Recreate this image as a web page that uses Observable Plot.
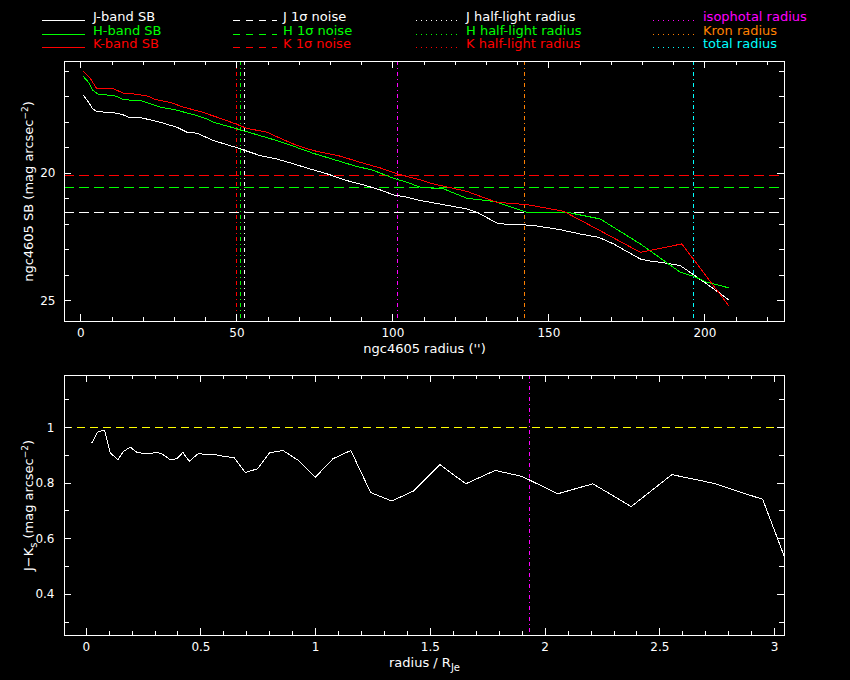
<!DOCTYPE html>
<html><head><meta charset="utf-8">
<script src="https://cdn.jsdelivr.net/npm/d3@7"></script>
<script src="https://cdn.jsdelivr.net/npm/@observablehq/plot@0.6"></script>
<style>
html,body{margin:0;padding:0;background:#000;}
#wrap{position:relative;width:850px;height:680px;background:#000;overflow:hidden;font-family:"DejaVu Sans",sans-serif;}
#legend,#top,#bot{position:absolute;left:0;}
#legend{top:0;} #top{top:0;} #bot{top:360px;}
svg{display:block;}
svg line, svg path, svg rect{shape-rendering:crispEdges;}
</style></head><body>
<div id="wrap"><div id="top"></div><div id="bot"></div><div id="legend"></div></div>
<script>
// ---------- data ----------
const legendSB = ["J-band SB", "H-band SB", "K-band SB"];
const legendNoise = ["J 1σ noise", "H 1σ noise", "K 1σ noise"];
const legendHalf = ["J half-light radius", "H half-light radius", "K half-light radius"];
const legendRadii = ["isophotal radius", "Kron radius", "total radius"];
const bandColors = ["#ffffff", "#00ff00", "#ff0000"];
const radiiColors = ["#ff00ff", "#ff8000", "#00ffff"];

const jRadius = [0.8, 2.8, 3.7, 5.1, 10.5, 13.1, 15.3, 19.5, 25.4, 30.8, 34.0, 37.2, 42.5, 49.5, 57.5, 62.8, 68.1, 74.5, 78.8, 85.3, 89.5, 95.9, 100.2, 104.5, 108.8, 116.2, 123.7, 126.9, 133.8, 141.8, 145.1, 153.6, 160.0, 165.9, 170.7, 179.3, 181.4, 186.7, 192.1, 196.4, 202.8, 207.6];
const jSB =     [16.95, 17.28, 17.47, 17.58, 17.63, 17.69, 17.80, 17.83, 18.00, 18.20, 18.39, 18.43, 18.72, 18.98, 19.31, 19.44, 19.63, 19.87, 20.02, 20.29, 20.42, 20.65, 20.85, 20.94, 21.07, 21.23, 21.40, 21.53, 21.98, 22.02, 22.05, 22.21, 22.38, 22.51, 22.77, 23.36, 23.42, 23.51, 23.62, 23.98, 24.53, 24.96];

const hRadius = [0.8, 2.4, 3.7, 5.3, 9.4, 11.5, 13.7, 19.0, 21.2, 25.4, 29.7, 36.1, 40.4, 42.5, 49.5, 55.3, 61.7, 68.1, 74.5, 82.1, 87.4, 93.8, 100.2, 104.5, 108.8, 116.2, 123.7, 132.8, 142.9, 155.8, 166.4, 179.3, 192.1, 196.4, 200.6, 207.6];
const hSB =     [16.21, 16.43, 16.73, 16.89, 16.95, 16.98, 17.12, 17.15, 17.24, 17.41, 17.50, 17.70, 17.87, 18.00, 18.24, 18.45, 18.68, 18.94, 19.22, 19.50, 19.70, 19.89, 20.20, 20.35, 20.55, 20.61, 20.98, 21.11, 21.53, 21.53, 21.79, 22.77, 23.88, 24.04, 24.27, 24.49];

const kRadius = [0.8, 2.8, 5.1, 10.5, 12.1, 14.2, 16.9, 21.7, 23.8, 28.6, 32.9, 38.2, 43.6, 49.5, 53.2, 59.6, 63.9, 69.2, 74.5, 83.1, 89.5, 95.9, 101.3, 108.5, 113.0, 123.7, 133.3, 143.0, 154.7, 166.4, 179.3, 192.6, 207.6];
const kSB =     [16.01, 16.24, 16.69, 16.69, 16.78, 16.89, 16.89, 16.98, 17.11, 17.22, 17.41, 17.58, 17.80, 18.06, 18.24, 18.39, 18.63, 18.91, 19.11, 19.33, 19.57, 19.79, 20.02, 20.25, 20.42, 20.71, 21.14, 21.23, 21.49, 22.25, 23.10, 22.77, 25.19];

const noiseLevels = [21.54, 20.57, 20.09];           // J, H, K 1-sigma noise
const halfLightRadii = [52.4, 51.2, 49.8];           // J, H, K
const otherRadii = [101.5, 142.2, 196.3];            // isophotal, Kron, total

const colorRadius = [0.025, 0.049, 0.064, 0.080, 0.105, 0.138, 0.163, 0.192, 0.221, 0.264, 0.308, 0.330, 0.366, 0.395, 0.421, 0.449, 0.487, 0.562, 0.598, 0.645, 0.693, 0.747, 0.799, 0.857, 0.925, 0.999, 1.075, 1.153, 1.240, 1.332, 1.426, 1.542, 1.654, 1.782, 1.898, 2.055, 2.208, 2.375, 2.552, 2.733, 2.948, 3.043];
const colorJK =     [0.946, 0.984, 0.988, 0.990, 0.909, 0.885, 0.915, 0.930, 0.911, 0.906, 0.911, 0.906, 0.885, 0.888, 0.911, 0.879, 0.906, 0.903, 0.897, 0.892, 0.839, 0.852, 0.910, 0.918, 0.882, 0.822, 0.888, 0.918, 0.766, 0.736, 0.772, 0.867, 0.798, 0.846, 0.825, 0.762, 0.798, 0.716, 0.831, 0.800, 0.742, 0.534];
const colorRef = [1.0];
const isoRadiusNorm = [1.931];

const topXMajor = [0, 50, 100, 150, 200];
const topXMinor = [0, 10, 20, 30, 40, 50, 60, 70, 80, 90, 100, 110, 120, 130, 140, 150, 160, 170, 180, 190, 200, 210, 220];
const topYMajor = [20, 25];
const topYMinor = [16, 17, 18, 19, 20, 21, 22, 23, 24, 25];
const botXMajor = [0, 0.5, 1, 1.5, 2, 2.5, 3];
const botXMinor = [0, 0.1, 0.2, 0.3, 0.4, 0.5, 0.6, 0.7, 0.8, 0.9, 1, 1.1, 1.2, 1.3, 1.4, 1.5, 1.6, 1.7, 1.8, 1.9, 2, 2.1, 2.2, 2.3, 2.4, 2.5, 2.6, 2.7, 2.8, 2.9, 3];
const botYMajor = [0.4, 0.6, 0.8, 1];
const botYMinor = [0.3, 0.4, 0.5, 0.6, 0.7, 0.8, 0.9, 1.0, 1.1];

// ---------- tables ----------
const sbTable = [
  ...jRadius.map((r, i) => ({band: "J", r, sb: jSB[i]})),
  ...hRadius.map((r, i) => ({band: "H", r, sb: hSB[i]})),
  ...kRadius.map((r, i) => ({band: "K", r, sb: kSB[i]}))
];
const colorTable = colorRadius.map((r, i) => ({r, jk: colorJK[i]}));
const noiseTable = noiseLevels.map((v, i) => ({v, c: bandColors[i]}));
const halfTable = halfLightRadii.map((v, i) => ({v, c: bandColors[i]}));
const otherTable = otherRadii.map((v, i) => ({v, c: radiiColors[i]}));

const W = 850, ML = 64, MR = 66;
const innerW = W - ML - MR;
const font = "DejaVu Sans";

function frameTicks(xMin, xMaj, yMin, yMaj, innerH) {
  const o = {stroke: "white", strokeWidth: 1};
  return [
    Plot.ruleX(xMin, {x: d => d, insetTop: innerH - 4, ...o}),
    Plot.ruleX(xMin, {x: d => d, insetBottom: innerH - 4, ...o}),
    Plot.ruleX(xMaj, {x: d => d, insetTop: innerH - 7, ...o}),
    Plot.ruleX(xMaj, {x: d => d, insetBottom: innerH - 7, ...o}),
    Plot.ruleY(yMin, {y: d => d, insetRight: innerW - 5, ...o}),
    Plot.ruleY(yMin, {y: d => d, insetLeft: innerW - 5, ...o}),
    Plot.ruleY(yMaj, {y: d => d, insetRight: innerW - 7, ...o}),
    Plot.ruleY(yMaj, {y: d => d, insetLeft: innerW - 7, ...o}),
    Plot.frame({stroke: "white", strokeWidth: 1})
  ];
}

function rich(svg, plain, build) {
  d3.select(svg).selectAll("text").filter(function () { return this.textContent === plain; })
    .each(function () { const t = d3.select(this); t.text(null); build(t); });
}

// ---------- top panel ----------
const topH = 360, topMT = 61, topMB = 39;
const topInnerH = topH - topMT - topMB;
const topPlot = Plot.plot({
  width: W, height: topH,
  marginLeft: ML, marginRight: MR, marginTop: topMT, marginBottom: topMB,
  style: {background: "#000", color: "#fff", fontFamily: font, fontSize: "12px"},
  x: {domain: [-5.26, 225.5]},
  y: {domain: [25.81, 15.62]},
  color: {domain: ["J", "H", "K"], range: bandColors},
  marks: [
    Plot.ruleY(noiseTable, {y: "v", stroke: "c", strokeDasharray: "10,5", strokeWidth: 1}),
    Plot.ruleX(halfTable, {x: "v", stroke: "c", strokeDasharray: "4,3,1,3", strokeWidth: 1}),
    Plot.ruleX(otherTable, {x: "v", stroke: "c", strokeDasharray: "4,3,1,3", strokeWidth: 1}),
    Plot.line(sbTable, {x: "r", y: "sb", z: "band", stroke: "band", strokeWidth: 1, clip: true}),
    ...frameTicks(topXMinor, topXMajor, topYMinor, topYMajor, topInnerH),
    Plot.axisX(topXMajor, {anchor: "bottom", tickSize: 0, tickPadding: 7, fontSize: 12, label: null, tickFormat: d => String(d)}),
    Plot.axisY(topYMajor, {anchor: "left", tickSize: 0, tickPadding: 9, fontSize: 12, label: null, tickFormat: d => String(d)}),
    Plot.text(["ngc4605 radius ('')"], {frameAnchor: "bottom", textAnchor: "middle", dy: 31, fill: "white", fontSize: 13}),
    Plot.text(["ngc4605 SB (mag arcsec−2)"], {frameAnchor: "left", textAnchor: "middle", rotate: -90, dx: -36, fill: "white", fontSize: 13})
  ]
});
rich(topPlot, "ngc4605 SB (mag arcsec−2)", t => {
  t.append("tspan").text("ngc4605 SB (mag arcsec");
  t.append("tspan").attr("dy", "-5").attr("font-size", "9").text("−2");
  t.append("tspan").attr("dy", "5").text(")");
});
document.getElementById("top").appendChild(topPlot);

// ---------- bottom panel ----------
const botH = 320, botMT = 15, botMB = 45;
const botInnerH = botH - botMT - botMB;
const botPlot = Plot.plot({
  width: W, height: botH,
  marginLeft: ML, marginRight: MR, marginTop: botMT, marginBottom: botMB,
  style: {background: "transparent", color: "#fff", fontFamily: font, fontSize: "12px"},
  x: {domain: [-0.0946, 3.043]},
  y: {domain: [0.2516, 1.188]},
  marks: [
    Plot.ruleY(colorRef, {y: d => d, stroke: "#ffff00", strokeDasharray: "8,5", strokeWidth: 1}),
    Plot.ruleX(isoRadiusNorm, {x: d => d, stroke: "#ff00ff", strokeDasharray: "4,3,1,3", strokeWidth: 1}),
    Plot.line(colorTable, {x: "r", y: "jk", stroke: "white", strokeWidth: 1, clip: true}),
    ...frameTicks(botXMinor, botXMajor, botYMinor, botYMajor, botInnerH),
    Plot.axisX(botXMajor, {anchor: "bottom", tickSize: 0, tickPadding: 7, fontSize: 12, label: null, tickFormat: d => String(d)}),
    Plot.axisY(botYMajor, {anchor: "left", tickSize: 0, tickPadding: 10, fontSize: 12, label: null, tickFormat: d => String(d)}),
    Plot.text(["radius / RJe"], {frameAnchor: "bottom", textAnchor: "middle", dy: 31, fill: "white", fontSize: 13}),
    Plot.text(["J−Ks (mag arcsec−2)"], {frameAnchor: "left", textAnchor: "middle", rotate: -90, dx: -36, fill: "white", fontSize: 13})
  ]
});
rich(botPlot, "radius / RJe", t => {
  t.append("tspan").text("radius / R");
  t.append("tspan").attr("dy", "4").attr("font-size", "10").text("Je");
});
rich(botPlot, "J−Ks (mag arcsec−2)", t => {
  t.append("tspan").text("J−K");
  t.append("tspan").attr("dy", "4").attr("font-size", "10").text("s");
  t.append("tspan").attr("dy", "-4").text(" (mag arcsec");
  t.append("tspan").attr("dy", "-5").attr("font-size", "9").text("−2");
  t.append("tspan").attr("dy", "5").text(")");
});
document.getElementById("bot").appendChild(botPlot);

// ---------- legend ----------
const leg = d3.create("svg").attr("width", W).attr("height", 56)
  .style("font-family", font).style("font-size", "13px");
const cols = [
  {labels: legendSB, colors: bandColors, x1: 42, x2: 85, tx: 93, dash: null},
  {labels: legendNoise, colors: bandColors, x1: 233, x2: 277, tx: 283, dash: "7,6"},
  {labels: legendHalf, colors: bandColors, x1: 416, x2: 457, tx: 466, dash: "1,4"},
  {labels: legendRadii, colors: radiiColors, x1: 653, x2: 694, tx: 703, dash: "1,4"}
];
const rowY = [20.5, 34.5, 48];
cols.forEach(c => {
  c.labels.forEach((lab, i) => {
    const ln = leg.append("line").attr("x1", c.x1).attr("x2", c.x2)
      .attr("y1", rowY[i] - 0.5).attr("y2", rowY[i] - 0.5)
      .attr("stroke", c.colors[i]).attr("stroke-width", 1);
    if (c.dash) ln.attr("stroke-dasharray", c.dash);
    leg.append("text").attr("x", c.tx).attr("y", rowY[i]).attr("fill", c.colors[i]).text(lab);
  });
});
document.getElementById("legend").appendChild(leg.node());
</script>
</body></html>
